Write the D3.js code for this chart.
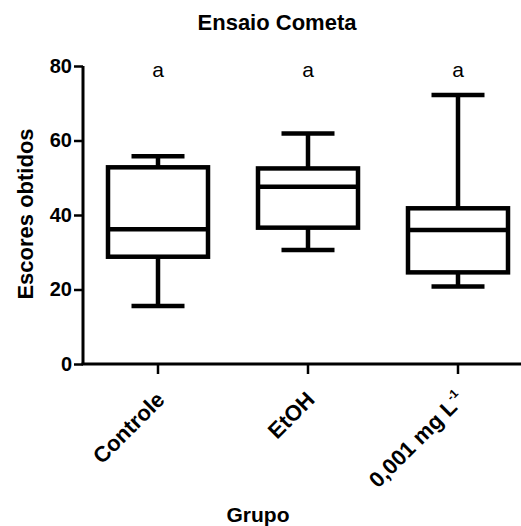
<!DOCTYPE html>
<html>
<head>
<meta charset="utf-8">
<script src="https://cdn.jsdelivr.net/npm/d3@7"></script>
<style>
  body { margin: 0; background: #fff; }
  svg { display: block; font-family: Arial, "Liberation Sans", sans-serif; }
</style>
</head>
<body>
<script>
const groups = ['Controle', 'EtOH', '0,001 mg L-1'];
const whiskerLow = [15.6, 30.6, 20.8];
const q1 = [28.8, 36.6, 24.6];
const median = [36.2, 47.6, 36.0];
const q3 = [52.8, 52.5, 41.8];
const whiskerHigh = [55.8, 61.9, 72.2];
const letters = ['a', 'a', 'a'];
const yTicks = [0, 20, 40, 60, 80];

const w = 521;
const h = 526;
const svg = d3.select('body').append('svg').attr('width', w).attr('height', h);

const xScale = d3.scaleBand().domain(groups).range([83, 533]);
const yScale = d3.scaleLinear().domain([0, 80]).range([364, 66]);

const boxes = groups.map((g, i) => ({
  g, lo: whiskerLow[i], q1: q1[i], med: median[i], q3: q3[i], hi: whiskerHigh[i], letter: letters[i]
}));

// axes
const yAxis = svg.append('g')
  .attr('transform', 'translate(83,0)')
  .call(d3.axisLeft(yScale).tickValues(yTicks).tickSize(9).tickPadding(2));
yAxis.select('.domain').attr('stroke-width', 3).attr('d', 'M0,' + yScale(80) + 'V' + yScale(0));
yAxis.selectAll('.tick line').attr('stroke-width', 2.5);
yAxis.selectAll('.tick text')
  .attr('font-size', 20).attr('font-weight', 'bold').attr('fill', '#000')
  .attr('font-family', 'Arial, "Liberation Sans", sans-serif');

const xAxis = svg.append('g')
  .attr('transform', 'translate(0,' + yScale(0) + ')')
  .call(d3.axisBottom(xScale).tickSize(10).tickFormat(''));
xAxis.select('.domain').attr('stroke-width', 3).attr('d', 'M81.5,0H533');
xAxis.selectAll('.tick line').attr('stroke-width', 2.5);

// rotated category labels
const xl = svg.append('g').selectAll('text').data(groups).enter().append('text')
  .attr('transform', d => 'translate(' + (xScale(d) + xScale.bandwidth() / 2 + 8) + ',' + (yScale(0) + 37) + ') rotate(-45)')
  .attr('text-anchor', 'end')
  .attr('font-size', 22)
  .attr('font-weight', 'bold');
xl.each(function (d) {
  const t = d3.select(this);
  if (d.endsWith('-1')) {
    t.append('tspan').text(d.slice(0, -2));
    t.append('tspan').attr('font-size', 12).attr('dy', -10).text('-1');
  } else {
    t.text(d);
  }
});

// boxes
const bw = 100;
const cw = 53;
const g = svg.append('g').attr('stroke', '#000').attr('stroke-width', 4.5).attr('fill', 'none');
const bx = g.selectAll('g').data(boxes).enter().append('g')
  .attr('transform', d => 'translate(' + (xScale(d.g) + xScale.bandwidth() / 2) + ',0)');

bx.append('line').attr('x1', 0).attr('x2', 0).attr('y1', d => yScale(d.hi)).attr('y2', d => yScale(d.q3));
bx.append('line').attr('x1', 0).attr('x2', 0).attr('y1', d => yScale(d.q1)).attr('y2', d => yScale(d.lo));
bx.append('line').attr('x1', -cw / 2).attr('x2', cw / 2).attr('y1', d => yScale(d.hi)).attr('y2', d => yScale(d.hi));
bx.append('line').attr('x1', -cw / 2).attr('x2', cw / 2).attr('y1', d => yScale(d.lo)).attr('y2', d => yScale(d.lo));
bx.append('rect').attr('x', -bw / 2).attr('width', bw)
  .attr('y', d => yScale(d.q3)).attr('height', d => yScale(d.q1) - yScale(d.q3));
bx.append('line').attr('x1', -bw / 2).attr('x2', bw / 2).attr('y1', d => yScale(d.med)).attr('y2', d => yScale(d.med));

// significance letters
svg.append('g').selectAll('text').data(boxes).enter().append('text')
  .attr('x', d => xScale(d.g) + xScale.bandwidth() / 2)
  .attr('y', 77)
  .attr('text-anchor', 'middle')
  .attr('font-size', 21)
  .text(d => d.letter);

// titles
svg.append('text').attr('x', 277).attr('y', 30).attr('text-anchor', 'middle')
  .attr('font-size', 22).attr('font-weight', 'bold').text('Ensaio Cometa');
svg.append('text').attr('transform', 'translate(33,214) rotate(-90)').attr('text-anchor', 'middle')
  .attr('font-size', 22).attr('font-weight', 'bold').text('Escores obtidos');
svg.append('text').attr('x', 258).attr('y', 522).attr('text-anchor', 'middle')
  .attr('font-size', 21).attr('font-weight', 'bold').text('Grupo');
</script>
</body>
</html>
